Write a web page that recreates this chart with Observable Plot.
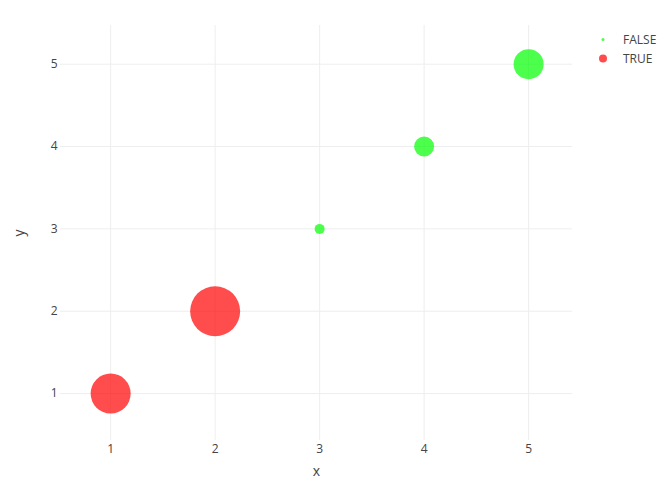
<!DOCTYPE html>
<html>
<head>
<meta charset="utf-8">
<script src="https://cdn.jsdelivr.net/npm/d3@7"></script>
<script src="https://cdn.jsdelivr.net/npm/@observablehq/plot@0.6"></script>
<style>
  body { margin: 0; background: #fff; font-family: "Open Sans", sans-serif; }
  #wrap { position: relative; width: 672px; height: 480px; }
  #legend { position: absolute; left: 596px; top: 30px; font: 12px "Open Sans", sans-serif; color: #444; }
  .item { position: relative; height: 19px; line-height: 19px; }
  .item svg { position: absolute; left: 0; top: 0; }
  .item span { position: absolute; left: 27px; top: 0; white-space: nowrap; }
</style>
</head>
<body>
<div id="wrap"></div>
<script>
const xs = [1, 2, 3, 4, 5];
const ys = [1, 2, 3, 4, 5];
const sizes = [4, 5, 1, 2, 3];
const groups = ["TRUE", "TRUE", "FALSE", "FALSE", "FALSE"];
const legendKeys = ["FALSE", "TRUE"];
const colors = {"FALSE": "#00ff00", "TRUE": "#ff0000"};
const ticks = [1, 2, 3, 4, 5];

const data = xs.map((x, i) => ({x, y: ys[i], size: sizes[i], group: groups[i]}));

const chart = Plot.plot({
  width: 672,
  height: 480,
  marginLeft: 60,
  marginRight: 100,
  marginTop: 25,
  marginBottom: 40,
  style: {fontFamily: "Open Sans", fontSize: "12px", color: "#444", background: "#fff", overflow: "visible"},
  x: {domain: [0.52, 5.42]},
  y: {domain: [0.43, 5.47]},
  r: {type: "linear", domain: [0, 5], range: [0, 25]},
  marks: [
    Plot.gridX(ticks, {stroke: "#eee", strokeOpacity: 1}),
    Plot.gridY(ticks, {stroke: "#eee", strokeOpacity: 1}),
    Plot.axisX(ticks, {tickSize: 0, tickPadding: 4, tickFormat: d3.format("d"), label: "x", labelArrow: "none", labelAnchor: "center", labelOffset: 35, fontSize: 12}),
    Plot.axisY(ticks, {tickSize: 0, tickPadding: 3, tickFormat: d3.format("d"), label: "y", labelArrow: "none", labelAnchor: "center", labelOffset: 46, fontSize: 12}),
    Plot.dot(data, {x: "x", y: "y", r: "size", fill: d => colors[d.group], fillOpacity: 0.7, stroke: "none"})
  ]
});
document.getElementById("wrap").appendChild(chart);
chart.querySelectorAll("[aria-label='x-axis label'] text, [aria-label='y-axis label'] text").forEach(t => t.setAttribute("font-size", "14"));

const legendR = {"FALSE": 1.5, "TRUE": 4};
const legend = document.createElement("div");
legend.id = "legend";
legendKeys.forEach(k => {
  const item = document.createElement("div");
  item.className = "item";
  item.innerHTML = `<svg width="16" height="19"><circle cx="7" cy="9.5" r="${legendR[k]}" fill="${colors[k]}" fill-opacity="0.7"></circle></svg><span>${k}</span>`;
  legend.appendChild(item);
});
document.getElementById("wrap").appendChild(legend);
</script>
</body>
</html>
